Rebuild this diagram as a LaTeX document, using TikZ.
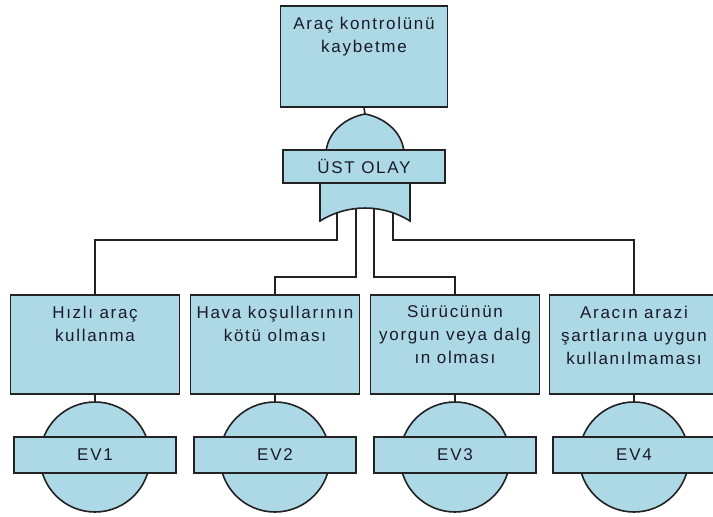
\documentclass[tikz,border=0pt]{standalone}
\usepackage{fontspec}
\setmainfont{Liberation Sans}[LetterSpace=10]
\definecolor{boxfill}{HTML}{ADD8E6}
\definecolor{edge}{HTML}{222222}
\definecolor{ink}{HTML}{1A1A28}

\begin{document}
\begin{tikzpicture}[x=1pt,y=1pt,line width=1.6pt,line join=miter,
  lbl/.style={font=\fontsize{17}{23}\selectfont,align=center,inner sep=0pt,anchor=north,text=ink},
  topbox/.style={draw=edge,fill=boxfill,minimum width=167pt,minimum height=101pt,inner sep=0pt,anchor=north},
  evbox/.style={draw=edge,fill=boxfill,minimum width=169pt,minimum height=99pt,inner sep=0pt,anchor=north},
  gatebox/.style={draw=edge,fill=boxfill,minimum width=162pt,minimum height=33pt,inner sep=0pt,
    font=\fontsize{17}{23}\selectfont,text=ink},
  basiccircle/.style={draw=edge,fill=boxfill,circle,minimum size=110pt,inner sep=0pt},
  basicbar/.style={draw=edge,fill=boxfill,minimum width=162pt,minimum height=36pt,inner sep=0pt,
    font=\fontsize{17}{23}\selectfont,text=ink},
  wire/.style={draw=edge,line width=1.6pt}]

\useasboundingbox (0,0) rectangle (713,-517);
\clip (0,0) rectangle (713,-517);

% top event
\node[topbox] (top) at (364,-5) {};
\node[lbl] (toptext) at ([yshift=-11pt]top.north) {Araç kontrolünü\\kaybetme};

% OR gate body
\coordinate (apex) at (365,-114);
\filldraw[draw=edge,fill=boxfill] (320,-221) -- (320,-170) -- (326,-152)
  .. controls (328,-130) and (348,-117) .. (apex)
  .. controls (382,-117) and (402,-130) .. (404,-152)
  -- (410,-170) -- (410,-221)
  arc[start angle=57.8,end angle=122.2,radius=84.4] -- cycle;
\draw[wire] (top.south) -- (apex);
\node[gatebox] (ust) at (364,-166.5) {ÜST OLAY};

% gate outputs
\coordinate (g1) at (337,-212.4);
\coordinate (g2) at (356,-208.4);
\coordinate (g3) at (374,-208.6);
\coordinate (g4) at (393,-213.0);
\coordinate (busA) at (0,-240);
\coordinate (busB) at (0,-277);

% basic events
\foreach \i/\cx/\txt in {1/95/{Hızlı araç\\kullanma},
                         2/275/{Hava koşullarının\\kötü olması},
                         3/455/{Sürücünün\\yorgun veya dalg\\ın olması},
                         4/634/{Aracın arazi\\şartlarına uygun\\kullanılmaması}}{
  \node[evbox] (b\i) at (\cx,-294) {};
  \node[lbl] (t\i) at ([yshift=-11pt]b\i.north) {\txt};
  \node[basiccircle] (c\i) at (\cx,-457) {};
  \draw[wire] (b\i.south) -- (c\i.north);
  \node[basicbar] (e\i) at (\cx,-455) {EV\i};
}

% connectors from the gate to the events
\draw[wire] (g1) -- (g1 |- busA) -| (b1.north);
\draw[wire] (g2) -- (g2 |- busB) -| (b2.north);
\draw[wire] (g3) -- (g3 |- busB) -| (b3.north);
\draw[wire] (g4) -- (g4 |- busA) -| (b4.north);

\end{tikzpicture}
\end{document}
